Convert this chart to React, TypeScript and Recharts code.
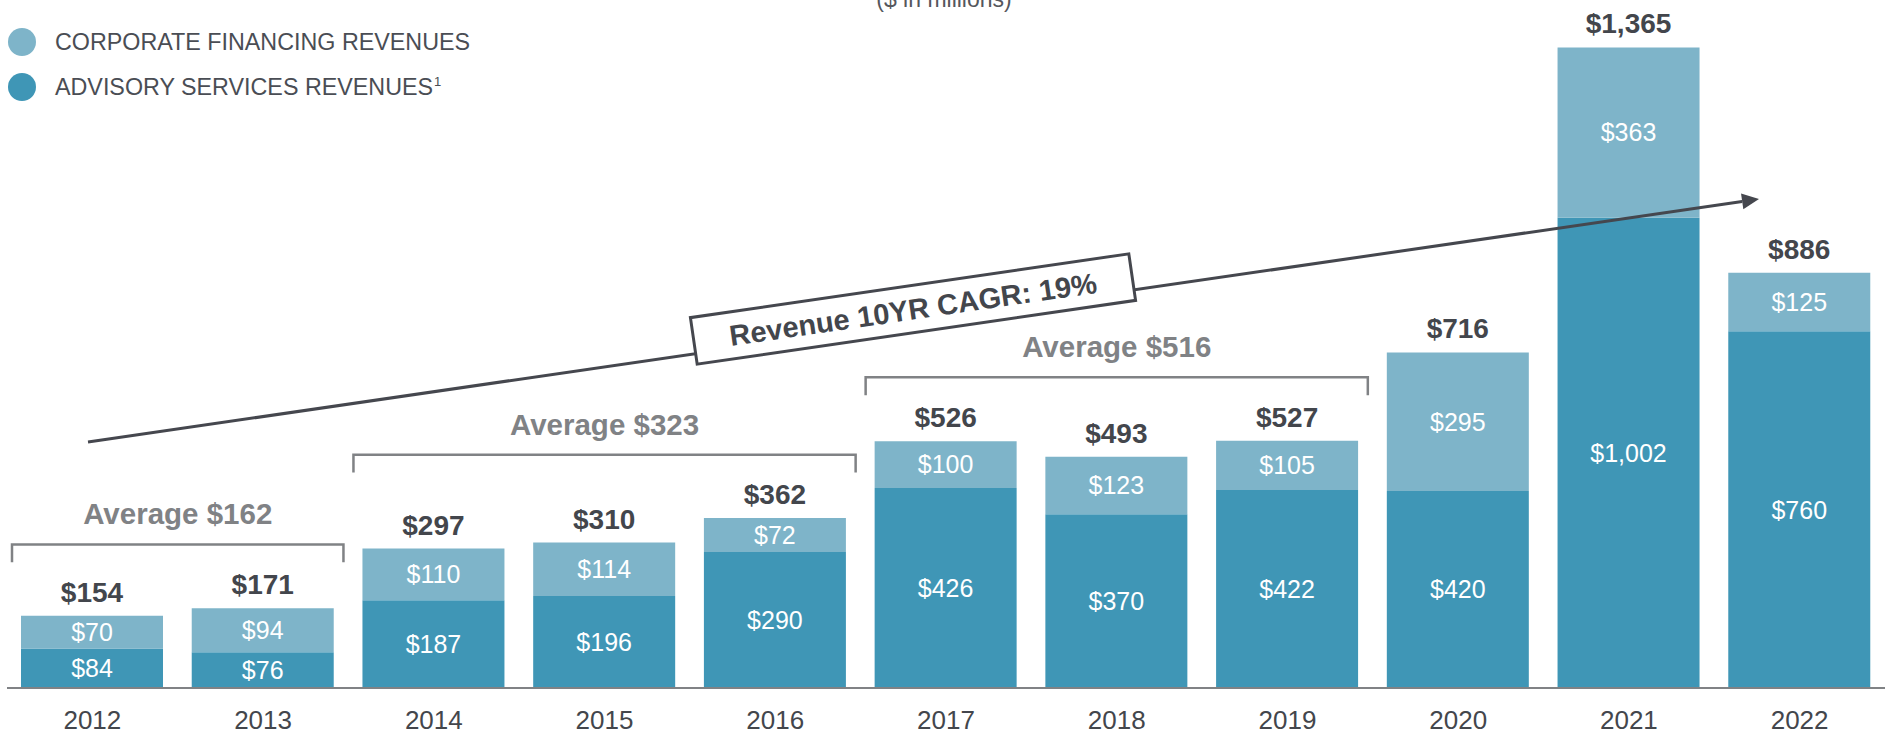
import { Bar, BarChart, LabelList, Legend, ReferenceArea, XAxis, YAxis } from "recharts";

const YEARS = ["2012", "2013", "2014", "2015", "2016", "2017", "2018", "2019", "2020", "2021", "2022"];
const ADVISORY = [84, 76, 187, 196, 290, 426, 370, 422, 420, 1002, 760];
const CORPORATE = [70, 94, 110, 114, 72, 100, 123, 105, 295, 363, 125];
const TOTALS = [154, 171, 297, 310, 362, 526, 493, 527, 716, 1365, 886];

const AVERAGE_GROUPS = [
  { from: "2012", to: "2013", average: 162 },
  { from: "2014", to: "2016", average: 323 },
  { from: "2017", to: "2019", average: 516 },
];

const LEGEND_ITEMS = [
  { label: "CORPORATE FINANCING REVENUES", note: "", color: "#7eb4c9" },
  { label: "ADVISORY SERVICES REVENUES", note: "1", color: "#3f96b6" },
];

const TITLE = "($ in millions)";
const CAGR_LABEL = "Revenue 10YR CAGR: 19%";

const FONT = '"Liberation Sans", Arial, Helvetica, sans-serif';
const DARK_TEXT = "#43464c";
const GREY = "#808285";

const W = 1885;
const H = 734;

const rows = YEARS.map((year, i) => ({
  year,
  advisory: ADVISORY[i],
  corporate: CORPORATE[i],
  total: TOTALS[i],
}));

const money = (v: any) => `$${Number(v).toLocaleString("en-US")}`;

function Bracket(props: any) {
  const { x, y, width, height, text } = props;
  const l = x + 5;
  const r = x + width - 5;
  return (
    <g>
      <path
        d={`M${l},${y + height} L${l},${y} L${r},${y} L${r},${y + height}`}
        fill="none"
        stroke={GREY}
        strokeWidth={2.5}
      />
      <text
        x={x + width / 2}
        y={y - 20}
        textAnchor="middle"
        fontFamily={FONT}
        fontWeight="bold"
        fontSize={29.5}
        fill={GREY}
      >
        {text}
      </text>
    </g>
  );
}

function LegendBlock() {
  return (
    <div style={{ position: "relative", width: 600, height: 110, fontFamily: FONT }}>
      {LEGEND_ITEMS.map((item, i) => (
        <div
          key={item.label}
          style={{ position: "absolute", left: 8, top: 28 + i * 45, height: 28, display: "flex", alignItems: "center" }}
        >
          <div style={{ width: 28, height: 28, borderRadius: 14, background: item.color }} />
          <span style={{ marginLeft: 19, fontSize: 23.3, color: "#4a4d54", lineHeight: "28px", whiteSpace: "nowrap" }}>
            {item.label}
            {item.note && <sup style={{ fontSize: 13, marginLeft: 1, lineHeight: 0 }}>{item.note}</sup>}
          </span>
        </div>
      ))}
    </div>
  );
}

function Overlay() {
  const start = { x: 88, y: 442 };
  const tip = { x: 1759, y: 199 };
  const dx = tip.x - start.x;
  const dy = tip.y - start.y;
  const len = Math.hypot(dx, dy);
  const ux = dx / len;
  const uy = dy / len;
  const headLen = 17;
  const headHalf = 8;
  const bx = tip.x - ux * headLen;
  const by = tip.y - uy * headLen;
  const px = -uy;
  const py = ux;
  const angle = (Math.atan2(dy, dx) * 180) / Math.PI;

  return (
    <svg width={W} height={H} style={{ position: "absolute", left: 0, top: 0, pointerEvents: "none" }}>
      <text x={944} y={7} textAnchor="middle" fontFamily={FONT} fontSize={23} fill="#55575d">
        {TITLE}
      </text>
      <line x1={start.x} y1={start.y} x2={bx} y2={by} stroke="#45474e" strokeWidth={3} />
      <polygon
        points={`${tip.x},${tip.y} ${bx + px * headHalf},${by + py * headHalf} ${bx - px * headHalf},${by - py * headHalf}`}
        fill="#45474e"
      />
      <g transform={`translate(913,309) rotate(${angle})`}>
        <rect x={-221.5} y={-23.5} width={443} height={47} fill="#fff" stroke="#45474e" strokeWidth={3} />
        <text
          x={0}
          y={0}
          dy="0.36em"
          textAnchor="middle"
          fontFamily={FONT}
          fontWeight="bold"
          fontSize={29}
          fill={DARK_TEXT}
        >
          {CAGR_LABEL}
        </text>
      </g>
    </svg>
  );
}

export default function App() {
  return (
    <div style={{ position: "absolute", left: 0, top: 0, width: W, height: H, background: "#fff" }}>
      <BarChart
        width={W}
        height={H}
        data={rows}
        margin={{ top: 31, right: 0, left: 7, bottom: 0 }}
        barSize={142}
        style={{ fontFamily: FONT }}
      >
        <XAxis
          dataKey="year"
          interval={0}
          height={46}
          tickLine={false}
          tickMargin={17}
          axisLine={{ stroke: GREY, strokeWidth: 2 }}
          tick={{ fontSize: 26, fill: DARK_TEXT, fontFamily: FONT }}
        />
        <YAxis hide domain={[0, 1400]} />
        <Legend
          layout="vertical"
          align="center"
          verticalAlign="middle"
          wrapperStyle={{ left: 0, top: 0, width: 600, height: 110 }}
          content={() => <LegendBlock />}
        />
        <Bar dataKey="advisory" name="ADVISORY SERVICES REVENUES" stackId="a" fill="#3f96b6" isAnimationActive={false}>
          <LabelList dataKey="advisory" position="center" formatter={money} fill="#fff" fontSize={25} fontFamily={FONT} />
        </Bar>
        <Bar dataKey="corporate" name="CORPORATE FINANCING REVENUES" stackId="a" fill="#7eb4c9" isAnimationActive={false}>
          <LabelList dataKey="corporate" position="center" formatter={money} fill="#fff" fontSize={25} fontFamily={FONT} />
          <LabelList
            dataKey="total"
            position="top"
            offset={14}
            formatter={money}
            fill={DARK_TEXT}
            fontSize={28}
            fontWeight="bold"
            fontFamily={FONT}
          />
        </Bar>
        {AVERAGE_GROUPS.map((g) => {
          const i0 = YEARS.indexOf(g.from);
          const i1 = YEARS.indexOf(g.to);
          const top = Math.max(...TOTALS.slice(i0, i1 + 1)) + 135;
          return (
            <ReferenceArea
              key={g.from}
              x1={g.from}
              x2={g.to}
              y1={top - 38}
              y2={top}
              ifOverflow="visible"
              shape={(p: any) => <Bracket {...p} text={`Average $${g.average}`} />}
            />
          );
        })}
      </BarChart>
      <Overlay />
    </div>
  );
}
